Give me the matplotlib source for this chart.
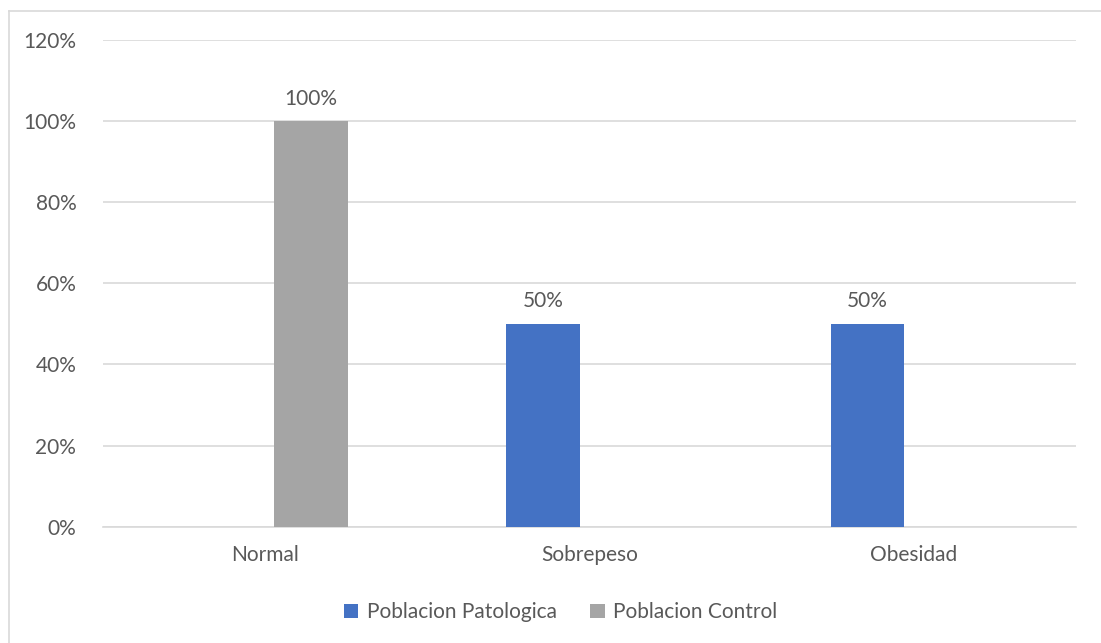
import matplotlib
matplotlib.use("Agg")
import matplotlib.pyplot as plt
from matplotlib.lines import Line2D
import numpy as np

categories = ["Normal", "Sobrepeso", "Obesidad"]
patologica = [0, 50, 50]
control = [100, 0, 0]
series_names = ["Poblacion Patologica", "Poblacion Control"]
yticks = [0, 20, 40, 60, 80, 100, 120]
colors = ["#4472C4", "#A5A5A5"]
text_color = "#595959"
grid_color = "#D9D9D9"

plt.rcParams['font.family'] = ['Lato', 'DejaVu Sans']

fig = plt.figure(figsize=(11.01, 6.43), dpi=100)
ax = fig.add_axes([0.0933, 0.1809, 0.8840, 0.7569])

x = np.arange(len(categories))
width = 0.2266
offset = 0.1425
fs = 15

b1 = ax.bar(x - offset, patologica, width, color=colors[0], label=series_names[0], zorder=3)
b2 = ax.bar(x + offset, control, width, color=colors[1], label=series_names[1], zorder=3)

for bars, vals in ((b1, patologica), (b2, control)):
    for rect, v in zip(bars, vals):
        if v > 0:
            ax.annotate(f"{v}%", (rect.get_x() + rect.get_width() / 2, v),
                        xytext=(0, 9), textcoords="offset points",
                        ha="center", va="bottom", fontsize=fs, color=text_color)

ax.set_xlim(-0.5, len(categories) - 0.5)
ax.set_ylim(0, 120)
ax.set_yticks(yticks)
ax.set_yticklabels([f"{t}%" for t in yticks])
ax.set_xticks(x)
ax.set_xticklabels(categories)
ax.tick_params(axis="both", length=0, labelsize=fs, colors=text_color)
ax.tick_params(axis="y", pad=19)
ax.tick_params(axis="x", pad=13)
ax.grid(axis="y", color=grid_color, linewidth=1.2, zorder=0)
for s in ["top", "right", "left"]:
    ax.spines[s].set_visible(False)
ax.spines["bottom"].set_color(grid_color)
ax.spines["bottom"].set_linewidth(1.2)

leg = fig.legend(handles=[b1, b2], labels=series_names, loc="center",
                 bbox_to_anchor=(0.509, 0.048), ncol=2, frameon=False,
                 fontsize=fs, handlelength=0.7, handleheight=0.7,
                 handletextpad=0.4, columnspacing=1.6)
for t in leg.get_texts():
    t.set_color(text_color)

# outer chart border (top and left visible)
fig.add_artist(Line2D([9 / 1101, 1.0], [1 - 11 / 643, 1 - 11 / 643], color=grid_color, lw=1.2))
fig.add_artist(Line2D([9 / 1101, 9 / 1101], [0, 1 - 11 / 643], color=grid_color, lw=1.2))

fig.savefig("out.png", dpi=100, facecolor="white")
